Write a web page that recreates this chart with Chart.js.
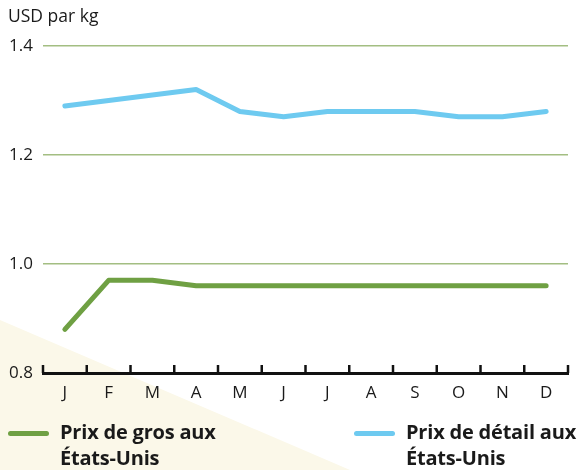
<!DOCTYPE html>
<html lang="fr">
<head>
<meta charset="UTF-8">
<title>Prix aux États-Unis</title>
<script src="https://cdn.jsdelivr.net/npm/chart.js"></script>
<style>
  body { margin: 0; width: 583px; height: 470px; position: relative; overflow: hidden; background: #fff; font-family: "Open Sans", sans-serif; color: #1a1a1a; }
  .cream { position: absolute; left: 0; top: 0; width: 583px; height: 470px; background: #fbf8e9; clip-path: polygon(0 320px, 350px 470px, 0 470px); }
  #wrap { position: absolute; left: 0; top: 0; width: 583px; height: 420px; }
  .unit { position: absolute; left: 8px; top: 3px; font-size: 17.5px; }
  .leg { position: absolute; top: 419px; font-weight: bold; font-size: 20px; line-height: 26px; letter-spacing: -0.2px; }
  .leg span.sw { position: absolute; left: -52px; top: 12px; width: 41px; height: 5px; border-radius: 3px; }
</style>
</head>
<body>
<div class="cream"></div>
<div id="wrap"><canvas id="chart"></canvas></div>
<div class="unit">USD par kg</div>
<div class="leg" id="leg0" style="left:60px"><span class="sw"></span></div>
<div class="leg" id="leg1" style="left:406px"><span class="sw"></span></div>
<script>
const months = ['J', 'F', 'M', 'A', 'M', 'J', 'J', 'A', 'S', 'O', 'N', 'D'];
const wholesale = [0.88, 0.97, 0.97, 0.96, 0.96, 0.96, 0.96, 0.96, 0.96, 0.96, 0.96, 0.96];
const retail = [1.29, 1.30, 1.31, 1.32, 1.28, 1.27, 1.28, 1.28, 1.28, 1.27, 1.27, 1.28];
const yTicks = [0.8, 1.0, 1.2, 1.4];
const seriesNames = [['Prix de gros aux', 'États-Unis'], ['Prix de détail aux', 'États-Unis']];
const seriesColors = ['#6fa043', '#6ecaf0'];

// HTML legend, two lines per entry
seriesNames.forEach((name, i) => {
  const el = document.getElementById('leg' + i);
  el.querySelector('.sw').style.background = seriesColors[i];
  el.insertAdjacentHTML('beforeend', name.join('<br>'));
});

// small upward ticks on the x axis, between the months
const xTickMarks = {
  id: 'xTickMarks',
  afterDatasetsDraw(chart) {
    const x = chart.scales.x;
    const ctx = chart.ctx;
    const step = x.getPixelForValue(1) - x.getPixelForValue(0);
    ctx.save();
    ctx.strokeStyle = '#111';
    ctx.lineWidth = 2.5;
    for (let i = 0; i <= months.length; i++) {
      const px = x.getPixelForValue(0) - step / 2 + i * step;
      ctx.beginPath();
      ctx.moveTo(px, x.top);
      ctx.lineTo(px, x.top - 8);
      ctx.stroke();
    }
    ctx.restore();
  }
};

new Chart(document.getElementById('chart'), {
  type: 'line',
  data: {
    labels: months,
    datasets: [
      { label: seriesNames[0].join(' '), data: wholesale, borderColor: seriesColors[0], borderWidth: 5, pointRadius: 0, tension: 0, borderCapStyle: 'round', borderJoinStyle: 'round' },
      { label: seriesNames[1].join(' '), data: retail, borderColor: seriesColors[1], borderWidth: 5, pointRadius: 0, tension: 0, borderCapStyle: 'round', borderJoinStyle: 'round' }
    ]
  },
  options: {
    responsive: true,
    maintainAspectRatio: false,
    animation: false,
    layout: { padding: { top: 46, right: 15, left: 0, bottom: 0 } },
    plugins: { legend: { display: false }, tooltip: { enabled: false } },
    scales: {
      x: {
        offset: true,
        grid: { display: false },
        border: { display: true, color: '#111', width: 3 },
        ticks: { color: '#1a1a1a', font: { family: 'Open Sans', size: 17 }, padding: 2, maxRotation: 0, autoSkip: false },
        afterFit(scale) { scale.height = 47; }
      },
      y: {
        min: 0.8,
        max: 1.4,
        afterBuildTicks(scale) { scale.ticks = yTicks.map(v => ({ value: v })); },
        grid: {
          color: ctx => ctx.tick && ctx.tick.value === 0.8 ? 'rgba(0,0,0,0)' : '#a3be82',
          lineWidth: 1.5,
          drawTicks: false
        },
        border: { display: false },
        ticks: { color: '#1a1a1a', font: { family: 'Open Sans', size: 17 }, padding: 10, callback: v => v.toFixed(1) },
        afterFit(scale) { scale.width = 43; }
      }
    }
  },
  plugins: [xTickMarks]
});
</script>
</body>
</html>
